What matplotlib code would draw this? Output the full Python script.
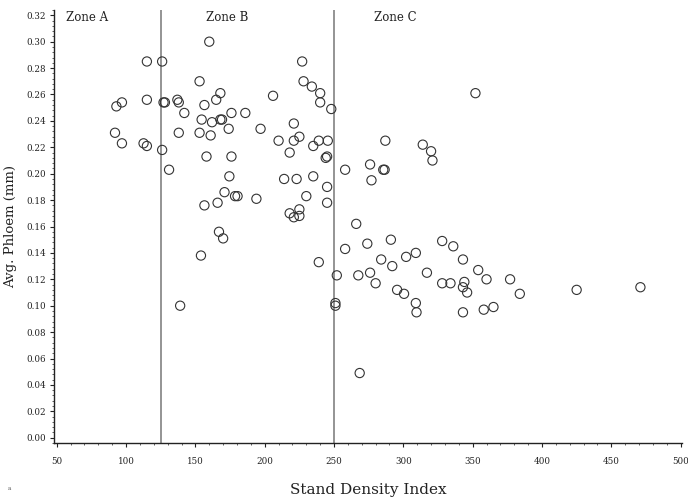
import matplotlib
matplotlib.use("Agg")
import matplotlib.pyplot as plt
from matplotlib.ticker import MultipleLocator

# --- data ---
sdi = [
    93, 97, 115, 115, 92, 97, 112.6, 115,
    126, 127, 128, 126,
    131, 139, 137, 138, 142, 138, 153, 160, 156.5, 165, 168, 154.5, 162, 168, 169.2,
    174, 176, 186, 197, 153, 161, 158, 176, 174.5, 171, 178.6, 180.4, 194, 156.5,
    166, 167, 170, 154,
    206, 227, 228, 234, 240, 240, 248, 221, 210, 221, 225, 239, 245.5, 235, 218,
    244, 245, 258, 214, 223, 235, 245, 230, 245, 218, 221, 225, 225, 239, 258,
    252, 251, 251,
    352, 287, 314, 320, 321, 276, 277, 285.5, 286.5, 266, 274, 291, 267.5, 276,
    280, 284, 292, 302, 309, 295.5, 300.5, 309, 309.5, 317, 328, 336, 328, 334,
    343, 344, 343, 346, 343, 354, 360, 358, 365, 377, 384, 425, 471, 268.5,
]
phloem = [
    0.251, 0.254, 0.285, 0.256, 0.231, 0.223, 0.223, 0.221,
    0.285, 0.254, 0.254, 0.218,
    0.203, 0.100, 0.256, 0.254, 0.246, 0.231, 0.270, 0.300, 0.252, 0.256, 0.261, 0.241, 0.239, 0.241, 0.241,
    0.234, 0.246, 0.246, 0.234, 0.231, 0.229, 0.213, 0.213, 0.198, 0.186, 0.183, 0.183, 0.181, 0.176,
    0.178, 0.156, 0.151, 0.138,
    0.259, 0.285, 0.270, 0.266, 0.261, 0.254, 0.249, 0.238, 0.225, 0.225, 0.228, 0.225, 0.225, 0.221, 0.216,
    0.212, 0.213, 0.203, 0.196, 0.196, 0.198, 0.190, 0.183, 0.178, 0.170, 0.167, 0.173, 0.168, 0.133, 0.143,
    0.123, 0.102, 0.100,
    0.261, 0.225, 0.222, 0.217, 0.210, 0.207, 0.195, 0.203, 0.203, 0.162, 0.147, 0.150, 0.123, 0.125,
    0.117, 0.135, 0.130, 0.137, 0.140, 0.112, 0.109, 0.102, 0.095, 0.125, 0.149, 0.145, 0.117, 0.117,
    0.135, 0.118, 0.114, 0.110, 0.095, 0.127, 0.120, 0.097, 0.099, 0.120, 0.109, 0.112, 0.114, 0.049,
]
zone_bounds = [125, 250]
zone_names = ["Zone A", "Zone B", "Zone C"]
zone_label_x = [71.5, 173, 294.5]

plt.rcParams["font.family"] = ["DejaVu Serif"]

fig = plt.figure(figsize=(6.88, 5.01), dpi=100)
ax = fig.add_axes([54 / 688, 58 / 501, 628 / 688, 433 / 501])

ax.scatter(sdi, phloem, s=44, facecolors="none", edgecolors="#333333", linewidths=0.8, zorder=3)

for xb in zone_bounds:
    ax.axvline(xb, color="#777777", lw=1.1, zorder=2)

for name, xl in zip(zone_names, zone_label_x):
    ax.text(xl, 0.318, name, ha="center", va="center", fontsize=8.5, color="#222222")

ax.set_xlim(48, 501)
ax.set_ylim(-0.004, 0.324)
ax.xaxis.set_major_locator(MultipleLocator(50))
ax.xaxis.set_minor_locator(MultipleLocator(10))
ax.yaxis.set_major_locator(MultipleLocator(0.02))
ax.yaxis.set_minor_locator(MultipleLocator(0.004))
ax.yaxis.set_major_formatter(plt.FormatStrFormatter("%.2f"))

ax.spines["top"].set_visible(False)
ax.spines["right"].set_visible(False)
for sp in ["left", "bottom"]:
    ax.spines[sp].set_color("#222222")
    ax.spines[sp].set_linewidth(1.0)

ax.tick_params(which="major", direction="out", length=3, width=0.8, labelsize=6.3,
               colors="#222222")
ax.tick_params(axis="y", which="major", pad=3)
ax.tick_params(axis="x", which="major", pad=7)
ax.tick_params(which="minor", direction="out", length=1.5, width=0.6, colors="#444444")

ax.set_xlabel("Stand Density Index", fontsize=11, color="#222222")
ax.set_ylabel("Avg. Phloem (mm)", fontsize=9.5, color="#222222")
ax.xaxis.set_label_coords(0.5, -0.093)
ax.yaxis.set_label_coords((17 - 54) / 628, 0.5)

fig.text(8 / 688, 1 - 490 / 501, "a", fontsize=4, color="#555555")

fig.savefig("out.png", dpi=100)
